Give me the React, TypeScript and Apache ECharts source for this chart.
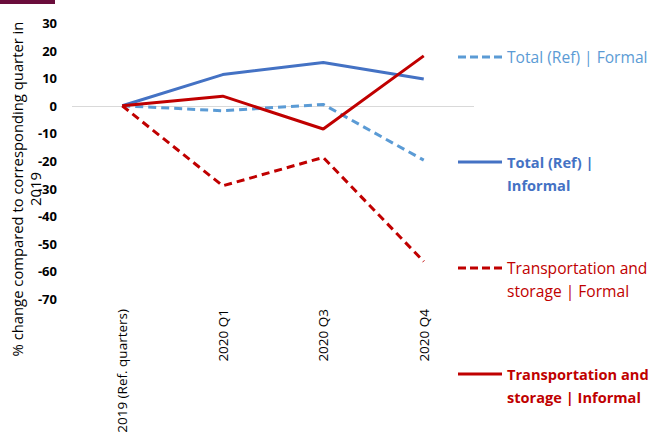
import React, { useEffect, useRef } from "react";
import * as echarts from "echarts";

const categories = ["2019 (Ref. quarters)", "2020 Q1", "2020 Q3", "2020 Q4"];
const totalFormal = [0, -1.8, 0.5, -19.7];
const totalInformal = [0, 11.3, 15.7, 9.7];
const transportFormal = [0, -29, -18.7, -56.4];
const transportInformal = [0, 3.5, -8.4, 18.1];

const seriesNames = [
  "Total (Ref) | Formal",
  "Total (Ref) | Informal",
  "Transportation and storage | Formal",
  "Transportation and storage | Informal",
];
const legendLabels = [
  "Total (Ref) | Formal",
  "Total (Ref) |\nInformal",
  "Transportation and\nstorage | Formal",
  "Transportation and\nstorage | Informal",
];

const FONT = "'Open Sans', sans-serif";

export default function App() {
  const ref = useRef<HTMLDivElement>(null);
  useEffect(() => {
    if (!ref.current) return;
    const chart = echarts.init(ref.current, undefined, { renderer: "svg" });
    const colors = ["#5B9BD5", "#4472C4", "#C00000", "#C00000"];
    const dashed = [true, false, true, false];
    const bold = [false, true, false, true];
    const data = [totalFormal, totalInformal, transportFormal, transportInformal];
    const legendY = [57, 162, 268, 374];

    const graphics: any[] = [
      { type: "rect", shape: { x: 0, y: 0, width: 55, height: 4 }, style: { fill: "#6A0D3B" } },
      {
        type: "text",
        x: 17,
        y: 189,
        rotation: Math.PI / 2,
        style: {
          text: "% change compared to corresponding quarter in",
          font: `14.8px ${FONT}`,
          fill: "#000",
          align: "center",
          verticalAlign: "middle",
        },
      },
      {
        type: "text",
        x: 35,
        y: 189,
        rotation: Math.PI / 2,
        style: {
          text: "2019",
          font: `14.8px ${FONT}`,
          fill: "#000",
          align: "center",
          verticalAlign: "middle",
        },
      },
    ];
    legendLabels.forEach((lab, i) => {
      graphics.push({
        type: "line",
        shape: { x1: 458, y1: legendY[i], x2: 502, y2: legendY[i] },
        style: {
          stroke: colors[i],
          lineWidth: 3,
          lineDash: dashed[i] ? [8, 4] : null,
        },
      });
      graphics.push({
        type: "text",
        x: 507,
        y: legendY[i] - 12,
        style: {
          text: lab,
          font: bold[i] ? `bold 14.6px ${FONT}` : `15.6px ${FONT}`,
          fill: colors[i],
          lineHeight: 23,
          align: "left",
          verticalAlign: "top",
        },
      });
    });

    chart.setOption({
      animation: false,
      grid: { left: 72, right: 177, top: 23, bottom: 136, outerBoundsMode: "none" },
      xAxis: {
        type: "category",
        data: categories,
        boundaryGap: true,
        axisLine: { show: false },
        axisTick: { show: false },
        axisLabel: {
          rotate: 90,
          margin: 10,
          fontSize: 13.5,
          fontFamily: FONT,
          color: "#000",
        },
      },
      yAxis: {
        type: "value",
        min: -70,
        max: 30,
        interval: 10,
        axisLine: { show: false },
        axisTick: { show: false },
        splitLine: { show: false },
        axisLabel: {
          margin: 15,
          fontSize: 13,
          fontWeight: "bold",
          fontFamily: FONT,
          color: "#000",
        },
      },
      series: data.map((d, i) => ({
        name: seriesNames[i],
        type: "line",
        data: d,
        symbol: "none",
        lineStyle: {
          color: colors[i],
          width: 3,
          type: dashed[i] ? [8, 5] : "solid",
        },
        z: 3,
        markLine:
          i === 0
            ? {
                silent: true,
                symbol: "none",
                label: { show: false },
                lineStyle: { color: "#D9D9D9", width: 1, type: "solid" },
                data: [{ yAxis: 0 }],
                z: 1,
              }
            : undefined,
      })),
      graphic: graphics,
    });
    return () => chart.dispose();
  }, []);
  return (
    <div
      ref={ref}
      style={{ position: "fixed", left: 0, top: 0, width: 651, height: 435, background: "#fff" }}
    />
  );
}
